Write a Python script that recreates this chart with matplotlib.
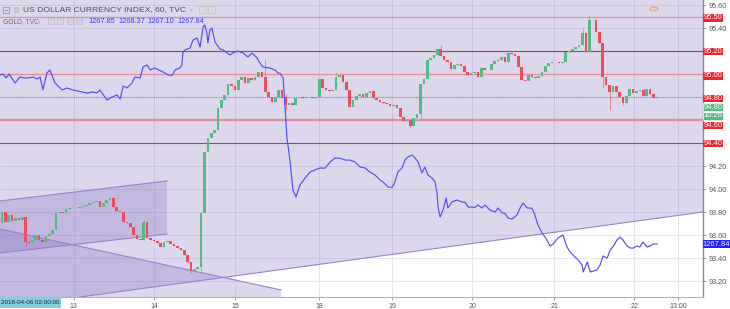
import matplotlib
matplotlib.use('Agg')
import matplotlib.pyplot as plt
from matplotlib.patches import Polygon, Rectangle, Circle
import numpy as np

plt.rcParams['font.family'] = ['Liberation Sans', 'DejaVu Sans']

# ---------------- data ----------------
first_open = 93.704
closes = [
    93.800, 93.713, 93.774, 93.722, 93.748, 93.730, 93.757, 93.539, 93.530, 93.556,
    93.600, 93.556, 93.539, 93.591, 93.609, 93.643, 93.791, 93.800, 93.791, 93.826,
    93.835, 93.832, 93.835, 93.843, 93.852, 93.861, 93.878, 93.887, 93.896, 93.843,
    93.878, 93.904, 93.922, 93.843, 93.809, 93.800, 93.713, 93.704, 93.670, 93.600,
    93.565, 93.556, 93.713, 93.574, 93.556, 93.548, 93.530, 93.496, 93.539, 93.548,
    93.522, 93.504, 93.487, 93.470, 93.426, 93.365, 93.287, 93.304, 93.322, 93.791,
    94.322, 94.444, 94.487, 94.513, 94.704, 94.774, 94.817, 94.913, 94.896, 94.861,
    94.948, 94.974, 94.922, 94.965, 94.948, 94.974, 95.017, 94.974, 94.843, 94.800,
    94.757, 94.800, 94.861, 94.791, 94.730, 94.748, 94.730, 94.791, 94.800, 94.791,
    94.800, 94.797, 94.791, 94.800, 94.957, 94.878, 94.861, 94.852, 94.861, 94.974,
    94.991, 94.930, 94.861, 94.713, 94.774, 94.809, 94.826, 94.800, 94.835, 94.852,
    94.791, 94.774, 94.757, 94.748, 94.739, 94.722, 94.730, 94.704, 94.626, 94.591,
    94.600, 94.548, 94.617, 94.652, 94.913, 94.957, 95.122, 95.139, 95.165, 95.217,
    95.157, 95.122, 95.104, 95.043, 95.078, 95.087, 95.070, 95.017, 94.991, 95.009,
    95.017, 94.974, 95.052, 95.035, 95.032, 95.087, 95.113, 95.122, 95.148, 95.104,
    95.183, 95.174, 95.157, 95.061, 94.948, 94.939, 94.991, 94.974, 94.965, 94.983,
    95.017, 95.070, 95.096, 95.104, 95.101, 95.096, 95.104, 95.191, 95.200, 95.217,
    95.235, 95.252, 95.357, 95.191, 95.470, 95.467, 95.365, 95.270, 94.974, 94.904,
    94.843, 94.896, 94.843, 94.800, 94.748, 94.809, 94.870, 94.835, 94.852, 94.861,
    94.809, 94.870, 94.826, 94.791, 94.796,
]
# notable wicks: bar index -> (high, low)
wicks = {7: (93.757, 93.50), 42: (93.73, 93.574), 56: (93.365, 93.27),
         59: (93.791, 93.278), 78: (95.122, 94.843), 84: (94.83, 94.687),
         99: (95.017, 94.861), 121: (94.591, 94.530), 124: (94.913, 94.60),
         130: (95.252, 95.157), 172: (95.40, 95.252), 174: (95.513, 95.191),
         178: (95.270, 94.878), 180: (94.904, 94.687), 184: (94.80, 94.73)}

gold_t = [-0.6, 0.3, 1.2, 2.1, 3.9, 5.3, 6.8, 8.3, 9.2, 10.4,
          11.3, 12.1, 13.3, 14.2, 15.7, 17.8, 19.3, 21.0, 23.7, 25.2,
          27.0, 28.1, 29.0, 31.1, 32.6, 34.1, 35.0, 35.9, 37.0, 38.5,
          39.4, 40.9, 41.8, 43.0, 43.9, 45.3, 47.7, 49.2, 50.4, 51.3,
          52.7, 53.3, 53.6, 54.2, 55.7, 56.6, 57.8, 58.7, 59.6, 60.1,
          60.7, 61.0, 61.6, 62.2, 63.1, 64.6, 65.5, 67.6, 68.4, 69.9,
          71.4, 72.9, 74.1, 75.6, 76.4, 77.3, 79.4, 80.9, 81.8, 82.4,
          83.3, 83.8, 84.4, 85.3, 86.2, 87.1, 88.3, 89.8, 91.3, 92.7,
          94.2, 95.7, 97.2, 98.7, 100.1, 101.6, 103.1, 104.6, 106.1, 107.6,
          109.0, 110.5, 112.0, 112.9, 114.4, 115.6, 116.4, 117.3, 118.5, 119.4,
          120.3, 121.5, 122.4, 123.3, 124.4, 125.3, 126.2, 127.4, 128.3, 128.9,
          129.2, 129.8, 130.7, 131.6, 132.1, 133.3, 134.8, 136.3, 137.2, 138.1,
          140.1, 141.0, 142.2, 143.1, 144.6, 146.1, 147.0, 148.2, 149.0, 149.9,
          151.1, 152.6, 153.5, 154.4, 155.6, 157.0, 157.9, 158.8, 160.0, 160.9,
          162.4, 163.3, 164.7, 166.2, 167.4, 168.3, 169.2, 170.7, 171.9, 172.2,
          173.4, 174.3, 176.3, 177.2, 178.1, 179.3, 180.2, 181.0, 182.2, 183.1,
          184.0, 185.2, 186.1, 187.0, 188.1, 189.0, 189.9, 191.1, 192.0, 192.9,
          194.1]
gold_v = [1310.09, 1310.34, 1309.34, 1310.34, 1308.09, 1309.59, 1309.34, 1309.40, 1309.59, 1309.09,
          1309.59, 1306.34, 1310.59, 1311.34, 1308.09, 1306.34, 1306.84, 1306.34, 1305.84, 1305.59,
          1305.84, 1305.59, 1306.34, 1303.84, 1304.59, 1305.09, 1304.09, 1307.34, 1306.84, 1308.09,
          1309.59, 1309.34, 1312.09, 1312.59, 1311.34, 1311.84, 1310.84, 1310.09, 1310.00, 1311.34,
          1311.84, 1312.59, 1315.59, 1316.34, 1316.84, 1318.84, 1319.34, 1317.09, 1322.09, 1322.59,
          1320.59, 1318.09, 1321.34, 1321.84, 1318.34, 1316.59, 1316.34, 1315.09, 1315.59, 1316.09,
          1315.59, 1314.59, 1315.59, 1314.34, 1313.09, 1312.09, 1311.84, 1311.34, 1310.59, 1310.50,
          1309.34, 1303.09, 1294.59, 1288.84, 1281.34, 1279.59, 1282.59, 1284.34, 1285.84, 1286.34,
          1286.84, 1286.80, 1288.34, 1289.34, 1289.30, 1288.84, 1288.80, 1288.34, 1287.09, 1286.84,
          1285.84, 1285.09, 1283.84, 1283.34, 1282.09, 1282.00, 1283.34, 1285.84, 1286.84, 1288.84,
          1289.59, 1290.09, 1289.34, 1288.34, 1285.59, 1287.09, 1285.09, 1284.34, 1283.34, 1280.59,
          1277.09, 1274.59, 1276.34, 1279.34, 1276.84, 1278.34, 1278.84, 1278.34, 1278.30, 1277.09,
          1277.00, 1277.59, 1276.84, 1277.59, 1276.34, 1275.84, 1276.84, 1275.59, 1275.50, 1274.34,
          1274.09, 1275.09, 1276.84, 1278.09, 1276.84, 1276.80, 1275.09, 1272.59, 1270.59, 1269.59,
          1267.34, 1267.84, 1269.34, 1270.09, 1267.09, 1265.84, 1265.09, 1263.84, 1262.59, 1260.84,
          1263.34, 1260.84, 1261.34, 1262.59, 1264.84, 1264.34, 1266.34, 1267.09, 1268.84, 1269.59,
          1268.84, 1267.34, 1266.84, 1266.80, 1267.34, 1267.09, 1268.34, 1267.09, 1267.34, 1267.84,
          1267.84]
gold_last = 1267.84
gold_ohlc_text = ['1267.85', '1268.37', '1267.10', '1267.84']

day_tick_pos = [21.3, 45.0, 69.0, 93.9, 115.6, 139.3, 163.6, 187.3, 200.3]
day_tick_lab = ['13', '14', '15', '18', '19', '20', '21', '22', '13:00']

price_ticks = [95.60, 95.40, 94.20, 94.00, 93.80, 93.60, 93.40, 93.20]
grid_levels = [93.2, 93.4, 93.6, 93.8, 94.0, 94.2, 94.4, 94.6, 94.8, 95.0, 95.2, 95.4, 95.6]
light_lines = [95.50, 95.00]
thick_light_lines = [94.60]
dark_lines = [95.20, 94.40]
last_price = 94.80

# drawings (anchor points in data coordinates)
trend_up = [(23.1, 93.061), (207.7, 93.80)]
trend_down = [(-0.6, 93.652), (82.7, 93.122)]
channel_top = [(-0.6, 93.896), (48.9, 94.070)]
channel_bot = [(-0.6, 93.444), (48.9, 93.609)]

# right-axis price labels: (text, centre, colour)
axis_labels = [('95.50', 95.487, 'red'), ('95.20', 95.196, 'red'), ('95.00', 94.983, 'red'),
               ('94.80', 94.787, 'red'), ('94.80', 94.713, 'green'), ('10:26', 94.635, 'green'),
               ('94.60', 94.552, 'red'), ('94.40', 94.396, 'red')]

XLIM = (-0.593, 207.7)
YLIM = (93.061, 95.6435)
GOLD_LIM = (1254.59, 1328.84)

UP = '#53b987'
DOWN = '#eb4d5c'
RED_BOX = '#f2242b'
PURPLE = (0.44, 0.33, 0.70)
W, H = 730, 309

# ---------------- figure ----------------
fig = plt.figure(figsize=(W / 100, H / 100), dpi=100)
fig.patch.set_facecolor('white')
ax = fig.add_axes([0, 12 / H, 703 / W, 297 / H])
ax.set_xlim(*XLIM)
ax.set_ylim(*YLIM)
ax.set_facecolor('white')

for g in grid_levels:
    ax.axhline(g, color='#e6e9f0', lw=0.7, zorder=0.3)
for t in day_tick_pos:
    ax.axvline(t, color='#e3e6ee', lw=0.7, zorder=0.3)


def line_at(pts, x):
    (x0, y0), (x1, y1) = pts
    return y0 + (y1 - y0) * (x - x0) / (x1 - x0)


xa, xb = XLIM[0] - 1, XLIM[1] + 1
polyA = [(xa, line_at(trend_up, xa)), (xb, line_at(trend_up, xb)), (xb, 97), (xa, 97)]
ax.add_patch(Polygon(polyA, closed=True, facecolor=PURPLE, alpha=0.23, lw=0, zorder=1))
polyB = [trend_down[0], trend_down[1], (trend_down[1][0], 92.5), (trend_down[0][0] - 1, 92.5),
         (trend_down[0][0] - 1, line_at(trend_down, trend_down[0][0] - 1))]
ax.add_patch(Polygon(polyB, closed=True, facecolor=PURPLE, alpha=0.23, lw=0, zorder=1))
cx0 = channel_top[0][0] - 1
polyC = [(cx0, line_at(channel_top, cx0)), channel_top[1], channel_bot[1], (cx0, line_at(channel_bot, cx0))]
ax.add_patch(Polygon(polyC, closed=True, facecolor=PURPLE, alpha=0.23, lw=0, zorder=1))

lc = '#9a7fcf'
ax.plot([trend_up[0][0], xb], [trend_up[0][1], line_at(trend_up, xb)], color=lc, lw=0.8, zorder=1.5)
ax.plot([cx0, trend_down[1][0]], [line_at(trend_down, cx0), trend_down[1][1]], color=lc, lw=0.8, zorder=1.5)
ax.plot([cx0, channel_top[1][0]], [line_at(channel_top, cx0), channel_top[1][1]], color=lc, lw=0.8, zorder=1.5)
ax.plot([cx0, channel_bot[1][0]], [line_at(channel_bot, cx0), channel_bot[1][1]], color=lc, lw=0.8, zorder=1.5)

for v in light_lines:
    ax.axhline(v, color='#e48d9b', lw=0.9, zorder=2)
for v in thick_light_lines:
    ax.axhline(v, color='#e8899b', lw=1.6, zorder=2)
for v in dark_lines:
    ax.axhline(v, color='#d92f3d', lw=0.8, zorder=2)
ax.axhline(last_price, color='#8f8f8f', lw=0.8, ls=(0, (1, 1)), zorder=2)

# candles
n = len(closes)
opens = [first_open] + closes[:-1]
idx = np.arange(n)
highs, lows, bottoms, heights, cols = [], [], [], [], []
for i in range(n):
    o, c = opens[i], closes[i]
    hi, lo = wicks.get(i, (max(o, c), min(o, c)))
    highs.append(max(hi, o, c))
    lows.append(min(lo, o, c))
    bottoms.append(min(o, c))
    heights.append(max(abs(c - o), 0.006))
    cols.append(UP if c >= o else DOWN)
ax.vlines(idx, lows, highs, colors=cols, lw=0.6, alpha=0.7, zorder=3)
ax.bar(idx, heights, bottom=bottoms, width=0.76, color=cols, lw=0, zorder=4)

# gold overlay on its own scale
ax2 = ax.twinx()
ax2.set_ylim(*GOLD_LIM)
ax2.plot(gold_t, gold_v, color='#5050ee', lw=0.85, zorder=5)
ax2.axis('off')
ax2.set_xlim(*XLIM)

# axes cosmetics (after twinx, which moves ticks to the left)
for s in ['left', 'top']:
    ax.spines[s].set_visible(False)
ax.spines['right'].set_visible(True)
ax.spines['right'].set_color('#8c8c8c')
ax.spines['right'].set_linewidth(1.0)
ax.spines['bottom'].set_color('#b0b0b0')
ax.spines['bottom'].set_linewidth(0.8)
ax.yaxis.tick_right()
ax.yaxis.set_label_position('right')
ax.set_yticks(price_ticks)
ax.set_yticklabels([f'{v:.2f}' for v in price_ticks])
ax.tick_params(axis='y', which='both', left=False, labelleft=False, right=True, labelright=True,
               labelsize=5.2, colors='#8c8c8c', labelcolor='#555555', length=2.5, pad=1.5, width=0.6)
ax.set_xticks(day_tick_pos)
ax.set_xticklabels(day_tick_lab)
ax.tick_params(axis='x', labelsize=5, colors='#8c8c8c', labelcolor='#555555', length=2.5, pad=1.5, width=0.6)


# right axis labels
def box_label(axis, yval, text, fc, h_units, w_frac, ec='none'):
    tr = axis.get_yaxis_transform()
    axis.add_patch(Rectangle((1.0, yval - h_units / 2), w_frac, h_units, transform=tr,
                             facecolor=fc, edgecolor=ec, lw=0.5, clip_on=False, zorder=10))
    axis.text(1.0 + w_frac / 2, yval, text, transform=tr, ha='center', va='center',
              fontsize=5.4, color='white', clip_on=False, zorder=11)


ppx = (YLIM[1] - YLIM[0]) / 297
for txt, yv, kind in axis_labels:
    fc = RED_BOX if kind == 'red' else UP
    box_label(ax, yv, txt, fc, 7.5 * ppx, 20 / 703, ec='white' if kind == 'green' else 'none')
gpx = (GOLD_LIM[1] - GOLD_LIM[0]) / 297
box_label(ax2, gold_last, f'{gold_last:.2f}', '#1f1fff', 7.5 * gpx, 27 / 703)

# header
fig.text(23 / W, 1 - 9.5 / H, 'US DOLLAR CURRENCY INDEX, 60, TVC', fontsize=6.1, color='#4a4a4a', va='center')
fig.text(3 / W, 1 - 21.5 / H, 'GOLD, TVC', fontsize=4.8, color='#666666', va='center')
fig.text(190 / W, 1 - 9.5 / H, '▾', fontsize=4, color='#bbbbbb', va='center', family=['DejaVu Sans'])
fig.text(38 / W, 1 - 21.5 / H, '▾', fontsize=4, color='#bbbbbb', va='center', family=['DejaVu Sans'])
vx = [88, 118, 147, 177]
for x, t in zip(vx, gold_ohlc_text):
    fig.text(x / W, 1 - 21.5 / H, t, fontsize=5.3, color='#3a3aff', va='center')


def icon(x, y, w, h, fc, ec):
    fig.patches.append(Rectangle((x / W, 1 - (y + h) / H), w / W, h / H, transform=fig.transFigure,
                                 facecolor=fc, edgecolor=ec, lw=0.5, figure=fig))


icon(3, 7, 6, 6, 'none', '#888888')
fig.text(6 / W, 1 - 10 / H, '−', fontsize=4, color='#777777', ha='center', va='center', family=['DejaVu Sans'])
icon(14, 7, 5, 6, '#c8c8c8', 'none')
icon(199, 6, 7, 7, '#d9d9de', '#c0c0c8')
icon(208, 6, 7, 7, '#d9d9de', '#c0c0c8')
for x in [48, 57, 67, 76]:
    icon(x, 18, 6, 6, '#d4d0de', '#c0bccc')

fig.patches.append(Circle((654 / W, 1 - 9 / H), 4.3 / W, transform=fig.transFigure, facecolor='none',
                          edgecolor='#f2a06a', lw=0.8, figure=fig))
fig.text(654 / W, 1 - 9 / H, '!', fontsize=4.5, color='#f2a06a', ha='center', va='center')

# date box
fig.patches.append(Rectangle((0, 1 / H), 61 / W, 11 / H, transform=fig.transFigure,
                             facecolor='#7fd0e2', edgecolor='none', figure=fig, zorder=20))
fig.text(30.5 / W, 6.5 / H, '2018-04-06 02:00:00', fontsize=4.5, color='#222222', ha='center',
         va='center', zorder=21)

fig.savefig('out.png', dpi=100, facecolor='white')
